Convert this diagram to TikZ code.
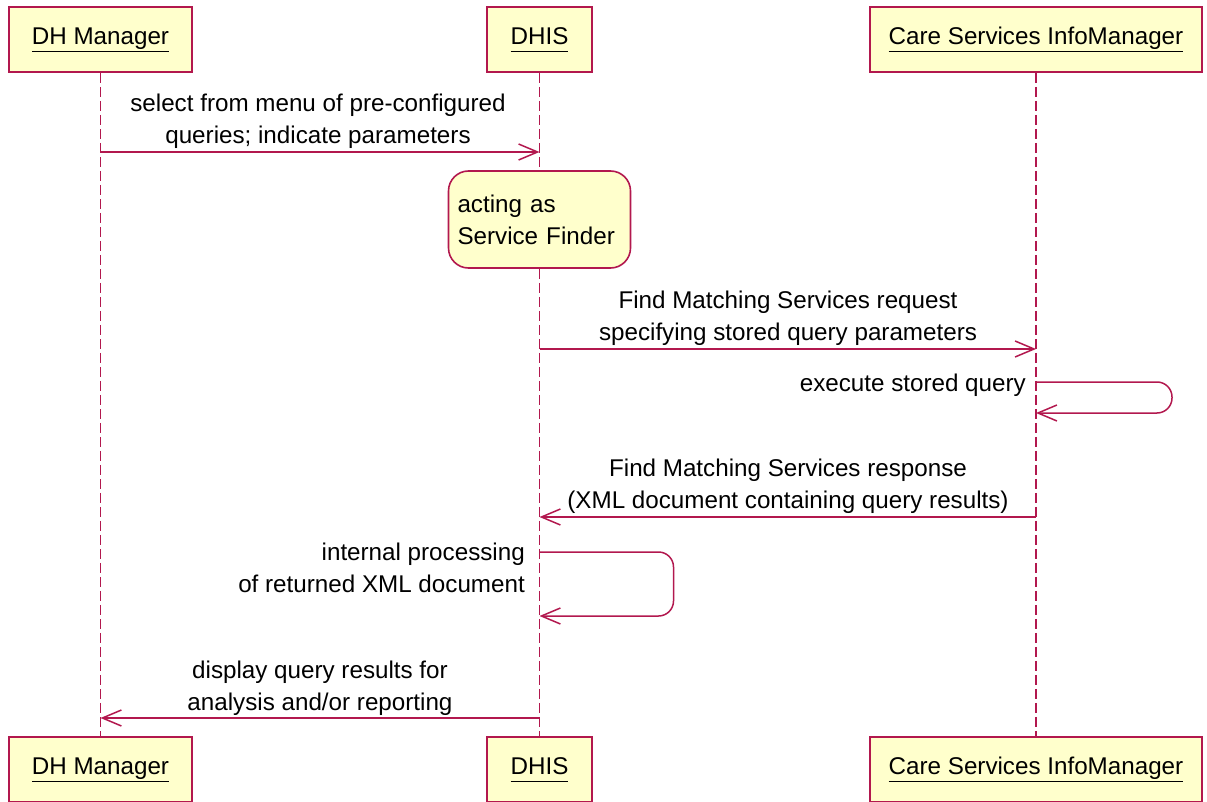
\documentclass[tikz,border=0pt]{standalone}
\usepackage{fontspec}
\setmainfont{Liberation Sans}
\usetikzlibrary{arrows.meta, positioning}

\definecolor{umlline}{RGB}{178,24,78}
\definecolor{umlfill}{RGB}{255,255,204}

\newcommand{\actname}[1]{\underline{#1\vphantom{g}}}

\tikzset{
  actor/.style={draw=umlline, fill=umlfill, line width=1.6pt, minimum height=65pt, inner sep=0pt},
  lifeline/.style={draw=umlline, line width=1.5pt, dash pattern=on 10pt off 4pt},
  msg/.style={draw=umlline, line width=1.5pt, -{Straight Barb[length=19pt,width=16pt,line width=1.5pt]}},
  msgtext/.style={align=center, inner sep=0pt},
  notebox/.style={draw=umlline, fill=umlfill, line width=1.6pt, rounded corners=20pt,
    text width=164pt, inner xsep=9pt, align=left, minimum height=97pt}
}

\begin{document}
\begin{tikzpicture}[x=1pt, y=-1pt, font=\fontsize{24.2}{32}\selectfont]
  \useasboundingbox (0,0) rectangle (1207,802);

  % Actors (top)
  \node[actor, minimum width=183pt] (dhmTop) at (100.5,39.5) {\actname{DH Manager}};
  \node[actor, minimum width=105pt] (dhisTop) at (539.5,39.5) {\actname{DHIS}};
  \node[actor, minimum width=332pt] (csimTop) at (1036,39.5) {\actname{Care Services InfoManager}};

  % Actors (bottom)
  \node[actor, minimum width=183pt] (dhmBot) at (100.5,769.5) {\actname{DH Manager}};
  \node[actor, minimum width=105pt] (dhisBot) at (539.5,769.5) {\actname{DHIS}};
  \node[actor, minimum width=332pt] (csimBot) at (1036,769.5) {\actname{Care Services InfoManager}};

  % Lifelines
  \draw[lifeline] (dhmTop.south) -- (dhmBot.north);
  \draw[lifeline] (dhisTop.south) -- (dhisBot.north);
  \draw[lifeline] (csimTop.south) -- (csimBot.north);

  % Note on DHIS
  \node[notebox] (finder) at (539.5,219.5) {acting as\\Service Finder};

  % Points on the lifelines
  \coordinate (selA) at (100.5,152);
  \coordinate (selB) at (539.5,152);
  \coordinate (reqA) at (539.5,349);
  \coordinate (reqB) at (1036,349);
  \coordinate (exeA) at (1036,382);
  \coordinate (exeB) at (1036,413);
  \coordinate (rspA) at (1036,517);
  \coordinate (rspB) at (539.5,517);
  \coordinate (intA) at (539.5,552);
  \coordinate (intB) at (539.5,616);
  \coordinate (dspA) at (539.5,718);
  \coordinate (dspB) at (100.5,718);

  % Messages
  \draw[msg] (selA) -- (selB);
  \node[msgtext] (selText) at (318,121) {select from menu of pre-configured\\queries; indicate parameters};

  \draw[msg] (reqA) -- (reqB);
  \node[msgtext] (reqText) at (788,318) {Find Matching Services request\\specifying stored query parameters};

  \draw[msg, rounded corners=15pt] (exeA) -- ++(136,0) |- (exeB);
  \node[msgtext, anchor=east] (exeText) at (1026,385) {execute stored query};

  \draw[msg] (rspA) -- (rspB);
  \node[msgtext] (rspText) at (788,486) {Find Matching Services response\\(XML document containing query results)};

  \draw[msg, rounded corners=15pt] (intA) -- ++(134,0) |- (intB);
  \node[msgtext, align=right, anchor=east] (intText) at (525,568) {internal processing\\of returned XML document};

  \draw[msg] (dspA) -- (dspB);
  \node[msgtext] (dspText) at (320,688) {display query results for\\analysis and/or reporting};
\end{tikzpicture}
\end{document}
